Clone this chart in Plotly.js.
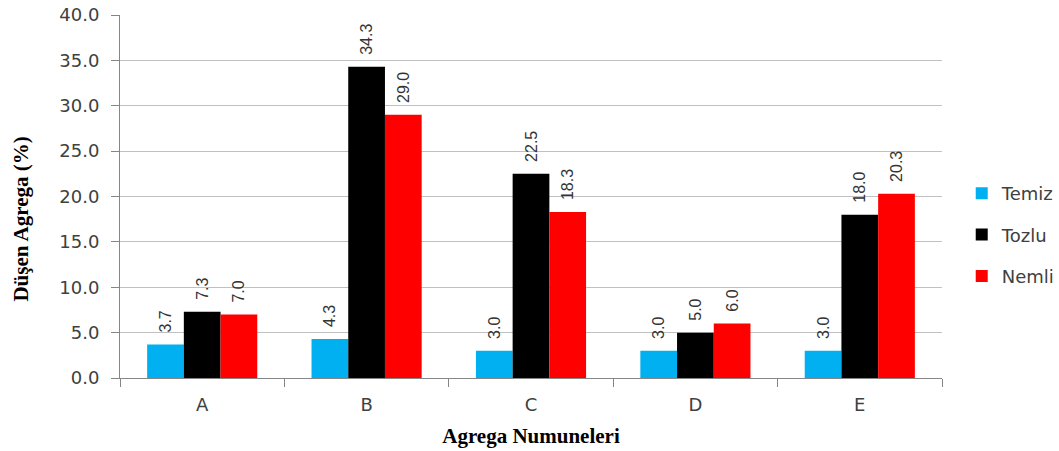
<!DOCTYPE html>
<html>
<head>
<meta charset="utf-8">
<script src="https://cdn.plot.ly/plotly-3.0.1.min.js"></script>
<style>
  html, body { margin: 0; padding: 0; background: #fff; }
  #chart { width: 1059px; height: 451px; }
</style>
</head>
<body>
<div id="chart"></div>
<script>
// Aggregate samples and falling-aggregate percentages per condition
const categories = ['A', 'B', 'C', 'D', 'E'];
const temiz = [3.7, 4.3, 3.0, 3.0, 3.0];
const tozlu = [7.3, 34.3, 22.5, 5.0, 18.0];
const nemli = [7.0, 29.0, 18.3, 6.0, 20.3];
const seriesNames = ['Temiz', 'Tozlu', 'Nemli'];
const seriesColors = ['#00b0f0', '#000000', '#ff0000'];

const seriesValues = [temiz, tozlu, nemli];

const traces = seriesValues.map((vals, i) => ({
  type: 'bar',
  name: seriesNames[i],
  legendgroup: seriesNames[i],
  x: categories,
  y: vals,
  marker: { color: seriesColors[i] },
  // leading no-break spaces lift the rotated value label clear of the bar top
  texttemplate: '\u00a0\u00a0%{y:.1f}',
  textposition: 'outside',
  textangle: -90,
  constraintext: 'none',
  textfont: { family: 'Liberation Sans, Arial, sans-serif', size: 16, color: '#333333' },
  cliponaxis: false,
  hoverinfo: 'x+y+name'
}));

const layout = {
  width: 1059,
  height: 451,
  margin: { l: 120, r: 117, t: 15, b: 73, autoexpand: false },
  paper_bgcolor: '#ffffff',
  plot_bgcolor: '#ffffff',
  barmode: 'group',
  bargap: 0.33,
  bargroupgap: 0,
  font: { family: 'DejaVu Sans, Verdana, sans-serif', size: 16, color: '#404040' },
  xaxis: {
    type: 'category',
    showgrid: false,
    showline: true,
    linecolor: '#868686',
    linewidth: 1,
    ticks: 'outside',
    tickson: 'boundaries',
    ticklen: 8,
    tickcolor: '#868686',
    ticklabelstandoff: 10,
    tickfont: { family: 'DejaVu Sans, Verdana, sans-serif', size: 18, color: '#404040' },
    title: {
      text: 'Agrega Numuneleri',
      font: { family: 'Liberation Serif, Times New Roman, serif', size: 21, color: '#000000', weight: 'bold' },
      standoff: 14
    },
    fixedrange: true
  },
  yaxis: {
    range: [0, 40],
    dtick: 5,
    tickformat: '.1f',
    showgrid: true,
    gridcolor: '#c0c0c0',
    gridwidth: 1,
    zeroline: false,
    showline: true,
    linecolor: '#868686',
    linewidth: 1,
    ticks: 'outside',
    ticklen: 8,
    tickcolor: '#868686',
    ticklabelstandoff: 8,
    tickfont: { family: 'DejaVu Sans, Verdana, sans-serif', size: 18, color: '#404040' },
    fixedrange: true
  },
  annotations: [{
    text: 'Düşen Agrega (%)',
    xref: 'paper', yref: 'paper',
    x: -0.121, y: 0.438,
    xanchor: 'center', yanchor: 'middle',
    textangle: -90,
    showarrow: false,
    font: { family: 'Liberation Serif, Times New Roman, serif', size: 21, color: '#000000', weight: 'bold' }
  }],
  legend: {
    x: 1.024,
    y: 0.394,
    xanchor: 'left',
    yanchor: 'middle',
    font: { family: 'DejaVu Sans, Verdana, sans-serif', size: 18, color: '#404040' },
    itemwidth: 30,
    tracegroupgap: 15,
    bgcolor: 'rgba(0,0,0,0)'
  },
  showlegend: true
};

Plotly.newPlot('chart', traces, layout, { displayModeBar: false, staticPlot: true });
</script>
</body>
</html>
